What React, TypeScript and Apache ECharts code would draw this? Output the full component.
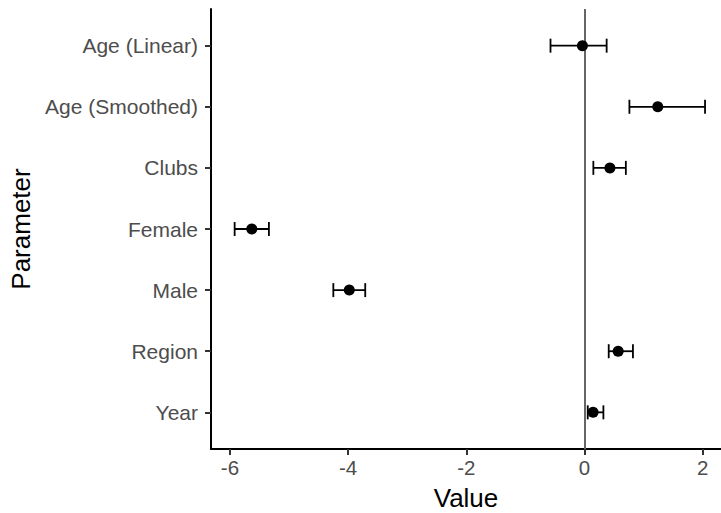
import React, { useEffect, useRef } from "react";
import * as echarts from "echarts";

const categories = ["Age (Linear)", "Age (Smoothed)", "Clubs", "Female", "Male", "Region", "Year"];
const estimates = [-0.035, 1.24, 0.43, -5.63, -3.98, 0.57, 0.145];
const lowerBounds = [-0.575, 0.76, 0.15, -5.92, -4.25, 0.41, 0.055];
const upperBounds = [0.375, 2.04, 0.70, -5.34, -3.71, 0.82, 0.32];
const xTicks = [-6, -4, -2, 0, 2];
const yTicks = categories.map((_, i) => i);

export default function App() {
  const ref = useRef<HTMLDivElement>(null);
  useEffect(() => {
    document.body.style.margin = "0";
    const chart = echarts.init(ref.current!, null, { renderer: "svg" });
    const font = "Liberation Sans, Arial, sans-serif";
    chart.setOption({
      animation: false,
      grid: { left: 211, right: 0, top: 9, bottom: 64, containLabel: false, outerBoundsMode: "none" },
      xAxis: {
        type: "value",
        min: -6.32,
        max: 2.31,
        name: "Value",
        nameLocation: "middle",
        nameGap: 36,
        nameTextStyle: { fontSize: 26, color: "#000", fontFamily: font },
        axisLine: { show: true, onZero: false, lineStyle: { color: "#000", width: 2 } },
        axisTick: { show: true, customValues: xTicks, length: 6, lineStyle: { color: "#333", width: 2 } },
        axisLabel: { customValues: xTicks, fontSize: 20.5, color: "#4D4D4D", fontFamily: font, margin: 8 },
        splitLine: { show: false },
      },
      yAxis: {
        type: "value",
        inverse: true,
        min: -0.6,
        max: 6.6,
        name: "Parameter",
        nameLocation: "middle",
        nameGap: 177,
        nameTextStyle: { fontSize: 26, color: "#000", fontFamily: font },
        axisLine: { show: true, onZero: false, lineStyle: { color: "#000", width: 2 } },
        axisTick: { show: true, customValues: yTicks, length: 6, lineStyle: { color: "#333", width: 2 } },
        axisLabel: {
          customValues: yTicks,
          fontSize: 21,
          color: "#4D4D4D",
          fontFamily: font,
          margin: 13,
          formatter: (v: number) => categories[Math.round(v)] ?? "",
        },
        splitLine: { show: false },
      },
      series: [
        {
          type: "custom",
          z: 2,
          silent: true,
          data: categories.map((_, i) => [lowerBounds[i], upperBounds[i], i]),
          encode: { x: [0, 1], y: 2 },
          renderItem: (params: any, api: any) => {
            const lo = api.coord([api.value(0), api.value(2)]);
            const hi = api.coord([api.value(1), api.value(2)]);
            const h = 7;
            const style = { stroke: "#000", lineWidth: 1.8 };
            return {
              type: "group",
              children: [
                { type: "line", shape: { x1: lo[0], y1: lo[1], x2: hi[0], y2: hi[1] }, style },
                { type: "line", shape: { x1: lo[0], y1: lo[1] - h, x2: lo[0], y2: lo[1] + h }, style },
                { type: "line", shape: { x1: hi[0], y1: hi[1] - h, x2: hi[0], y2: hi[1] + h }, style },
              ],
            };
          },
          markLine: {
            silent: true,
            symbol: ["none", "none"],
            label: { show: false },
            lineStyle: { color: "#666", width: 2, type: "solid" },
            data: [{ xAxis: 0 }],
            z: 1,
          },
        },
        {
          type: "scatter",
          z: 3,
          silent: true,
          symbol: "circle",
          symbolSize: 11,
          itemStyle: { color: "#000", opacity: 1 },
          data: categories.map((_, i) => [estimates[i], i]),
        },
      ],
    });
    return () => chart.dispose();
  }, []);
  return <div ref={ref} style={{ width: 721, height: 513 }} />;
}
